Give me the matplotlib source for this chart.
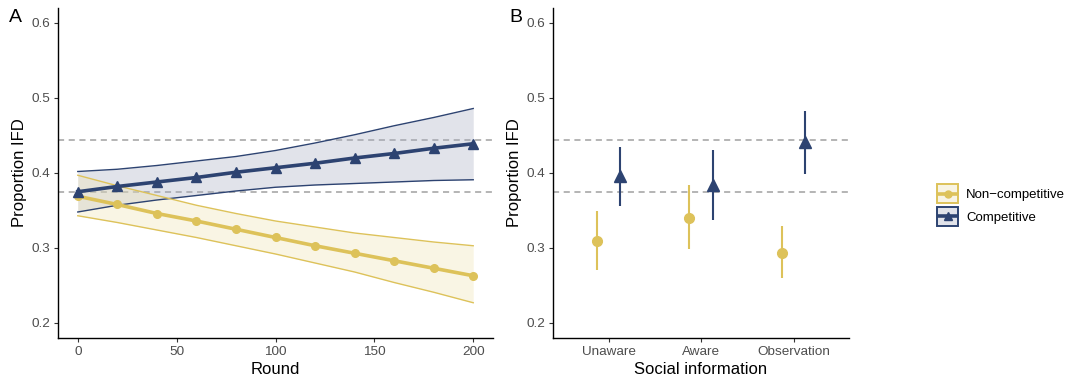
import matplotlib.pyplot as plt
from matplotlib.patches import Rectangle
from matplotlib.lines import Line2D

plt.rcParams['font.family'] = ['Liberation Sans', 'DejaVu Sans']

# panel A: model predictions over rounds
rounds = [0, 20, 40, 60, 80, 100, 120, 140, 160, 180, 200]
comp_fit = [0.375, 0.382, 0.388, 0.394, 0.401, 0.407, 0.413, 0.420, 0.426, 0.433, 0.439]
comp_hi = [0.402, 0.405, 0.410, 0.416, 0.422, 0.430, 0.440, 0.451, 0.463, 0.474, 0.486]
comp_lo = [0.348, 0.357, 0.364, 0.370, 0.376, 0.381, 0.384, 0.386, 0.388, 0.390, 0.391]
noncomp_fit = [0.369, 0.358, 0.346, 0.336, 0.325, 0.314, 0.303, 0.293, 0.283, 0.273, 0.263]
noncomp_hi = [0.397, 0.383, 0.370, 0.357, 0.346, 0.336, 0.328, 0.320, 0.314, 0.308, 0.303]
noncomp_lo = [0.343, 0.334, 0.324, 0.314, 0.303, 0.292, 0.280, 0.268, 0.254, 0.241, 0.227]

# panel B: social information conditions
conditions = ['Unaware', 'Aware', 'Observation']
noncomp_est = [0.309, 0.340, 0.293]
noncomp_low = [0.271, 0.299, 0.260]
noncomp_up = [0.349, 0.384, 0.329]
comp_est = [0.396, 0.384, 0.441]
comp_low = [0.356, 0.337, 0.398]
comp_up = [0.435, 0.431, 0.482]

ref_lines = [0.375, 0.444]

yellow = '#DDC25A'
blue = '#2D4371'
yellow_fill = '#F0E4B4'
blue_fill = '#A9AFC4'


class BoxKey:
    # legend key: filled box with the line + marker centred in it
    def __init__(self, color, face, marker, ms):
        self.color, self.face, self.marker, self.ms = color, face, marker, ms

    def legend_artist(self, legend, orig_handle, fontsize, handlebox):
        x0, y0 = -handlebox.xdescent, -handlebox.ydescent
        w, h = handlebox.width, handlebox.height
        box = Rectangle((x0, y0), w, h, facecolor=self.face, edgecolor=self.color,
                        lw=1.4, transform=handlebox.get_transform())
        line = Line2D([x0 + 1, x0 + w - 1], [y0 + h / 2] * 2, color=self.color, lw=2.6,
                      transform=handlebox.get_transform())
        mark = Line2D([x0 + w / 2], [y0 + h / 2], color=self.color, marker=self.marker,
                      ms=self.ms, ls='none', transform=handlebox.get_transform())
        handlebox.add_artist(box)
        handlebox.add_artist(line)
        handlebox.add_artist(mark)
        return box


fig = plt.figure(figsize=(10.73, 3.83), dpi=100)
axA = fig.add_axes([58 / 1073, 1 - 338 / 383, 435 / 1073, 330 / 383])
axB = fig.add_axes([553 / 1073, 1 - 338 / 383, 296 / 1073, 330 / 383])

for ax in (axA, axB):
    for y in ref_lines:
        ax.axhline(y, color='#A0A0A0', lw=1.1, ls=(0, (4, 3)), zorder=1)
    ax.set_ylim(0.18, 0.62)
    ax.set_yticks([0.2, 0.3, 0.4, 0.5, 0.6])
    ax.set_yticklabels(['0.2', '0.3', '0.4', '0.5', '0.6'])
    ax.spines['top'].set_visible(False)
    ax.spines['right'].set_visible(False)
    ax.spines['left'].set_linewidth(1.0)
    ax.spines['bottom'].set_linewidth(1.0)
    ax.tick_params(axis='both', labelsize=9.7, labelcolor='#4D4D4D', length=3, width=0.8,
                   color='#333333', pad=2.5)
    ax.set_ylabel('Proportion IFD', fontsize=12, labelpad=3)

# panel A
axA.fill_between(rounds, comp_lo, comp_hi, color=blue_fill, alpha=0.35, lw=0, zorder=2)
axA.fill_between(rounds, noncomp_lo, noncomp_hi, color=yellow_fill, alpha=0.35, lw=0, zorder=2)
axA.plot(rounds, comp_hi, color=blue, lw=1.0, zorder=3)
axA.plot(rounds, comp_lo, color=blue, lw=1.0, zorder=3)
axA.plot(rounds, noncomp_hi, color=yellow, lw=1.0, zorder=3)
axA.plot(rounds, noncomp_lo, color=yellow, lw=1.0, zorder=3)
axA.plot(rounds, noncomp_fit, color=yellow, lw=2.6, marker='o', ms=5.5, zorder=4)
axA.plot(rounds, comp_fit, color=blue, lw=2.6, marker='^', ms=6.5, zorder=5)
axA.set_xlim(-10, 210)
axA.set_xticks([0, 50, 100, 150, 200])
axA.set_xlabel('Round', fontsize=12, labelpad=3)

# panel B
pos = range(1, len(conditions) + 1)
dodge = 0.125
xs_n = [p - dodge for p in pos]
xs_c = [p + dodge for p in pos]
axB.vlines(xs_n, noncomp_low, noncomp_up, color=yellow, lw=1.5, zorder=3)
axB.plot(xs_n, noncomp_est, 'o', color=yellow, ms=7, zorder=4)
axB.vlines(xs_c, comp_low, comp_up, color=blue, lw=1.5, zorder=3)
axB.plot(xs_c, comp_est, '^', color=blue, ms=8, zorder=4)
axB.set_xlim(0.4, 3.6)
axB.set_xticks(list(pos))
axB.set_xticklabels(conditions)
axB.set_xlabel('Social information', fontsize=12, labelpad=3)

fig.text(9 / 1073, 1 - 17 / 383, 'A', fontsize=14, va='center', ha='left')
fig.text(509 / 1073, 1 - 17 / 383, 'B', fontsize=14, va='center', ha='left')

key_non = BoxKey(yellow, '#F8F4E4', 'o', 5)
key_comp = BoxKey(blue, '#E1E3EA', '^', 6)
h_non = Line2D([], [])
h_comp = Line2D([], [])
fig.legend([h_non, h_comp], ['Non\u2212competitive', 'Competitive'],
           handler_map={h_non: key_non, h_comp: key_comp},
           loc='center left', bbox_to_anchor=(928 / 1073, 1 - 205 / 383),
           frameon=False, fontsize=9.5, handlelength=1.6, handleheight=1.8,
           handletextpad=0.6, labelspacing=0.3, borderpad=0.2)

fig.savefig('out.png', dpi=100)
